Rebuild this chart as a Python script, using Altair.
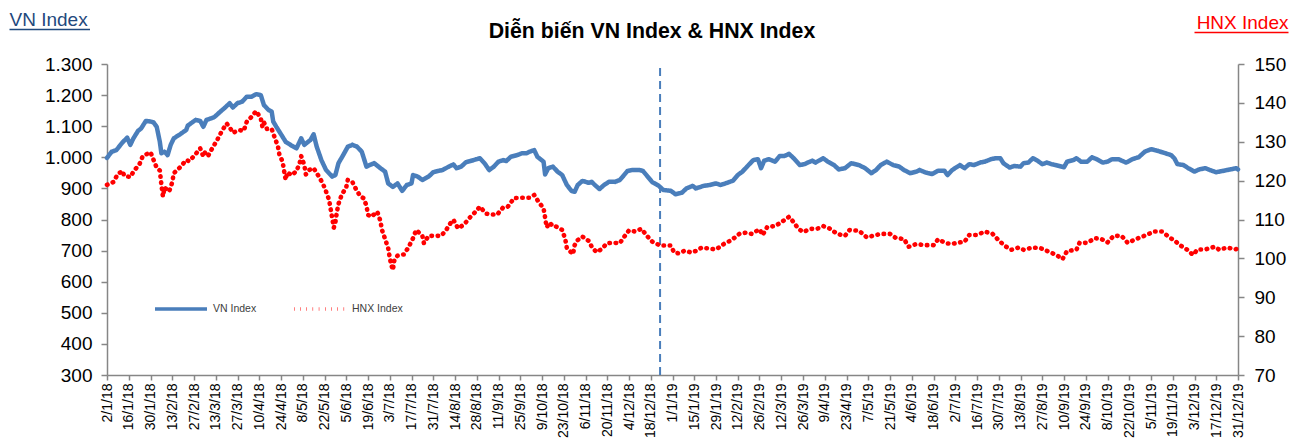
import altair as alt
import pandas as pd

# ---------------- data ----------------
START = "2018-01-02"
END = "2019-12-31"
SPLIT_DATE = "2018-12-24"

# days since 2/1/18 and VN Index close
VN_DAY = [0, 3, 6, 10, 13, 15, 17, 20, 22, 25, 28, 30, 32, 34, 35, 37, 39, 41, 43, 47,
          51, 52, 57, 60, 62, 64, 69, 73, 76, 79, 81, 84, 87, 90, 93, 96, 99, 101, 104, 106,
          107, 109, 113, 115, 119, 122, 125, 127, 131, 133, 135, 138, 141, 145, 147, 149, 152, 155, 158, 161,
          164, 167, 169, 172, 176, 179, 181, 184, 187, 190, 193, 196, 197, 200, 203, 207, 210, 213, 216, 220,
          223, 225, 228, 231, 236, 240, 243, 246, 249, 252, 255, 257, 260, 264, 267, 270, 272, 275, 277, 281,
          282, 284, 287, 290, 293, 296, 299, 301, 303, 306, 310, 312, 314, 317, 320, 323, 327, 330, 332, 335,
          338, 343, 345, 348, 351, 355, 358, 363, 366, 370, 373, 377, 379, 384, 388, 392, 395, 398, 403, 406,
          409, 412, 416, 419, 421, 423, 426, 430, 433, 436, 439, 442, 446, 449, 451, 454, 456, 461, 464, 468,
          471, 475, 479, 484, 488, 492, 495, 498, 502, 506, 510, 513, 517, 521, 523, 527, 531, 535, 539, 541,
          544, 549, 552, 555, 558, 562, 565, 569, 572, 575, 577, 581, 584, 588, 590, 593, 596, 599, 602, 605,
          608, 613, 616, 618, 622, 624, 627, 631, 634, 637, 641, 644, 647, 651, 656, 660, 664, 668, 672, 676,
          680, 685, 687, 689, 693, 696, 700, 703, 707, 710, 714, 719, 723, 727, 728]
VN_VALUE = [998, 1018, 1023, 1048, 1063, 1040, 1061, 1085, 1093, 1117, 1115, 1112, 1098, 1050, 1013, 1018, 1007, 1040, 1061, 1074,
            1088, 1102, 1120, 1117, 1098, 1120, 1129, 1147, 1160, 1174, 1160, 1174, 1179, 1195, 1195, 1203, 1200, 1168, 1152, 1147,
            1115, 1098, 1066, 1050, 1037, 1029, 1061, 1040, 1056, 1074, 1034, 991, 959, 938, 943, 981, 1007, 1034, 1040, 1034,
            1018, 970, 975, 981, 965, 954, 916, 905, 916, 892, 911, 916, 943, 938, 927, 938, 952, 956, 959, 970,
            977, 965, 970, 984, 991, 997, 981, 959, 970, 986, 991, 988, 1002, 1007, 1013, 1013, 1018, 1023, 1002, 986,
            945, 965, 970, 954, 943, 911, 892, 889, 911, 924, 918, 921, 911, 898, 911, 921, 921, 927, 938, 956,
            959, 959, 956, 938, 920, 909, 895, 892, 881, 886, 900, 908, 900, 908, 911, 916, 911, 916, 925, 943,
            954, 970, 991, 994, 965, 989, 994, 986, 1004, 1004, 1011, 997, 975, 978, 983, 989, 983, 997, 986, 975,
            961, 965, 981, 975, 965, 949, 959, 975, 986, 975, 970, 959, 949, 954, 959, 951, 946, 957, 957, 943,
            959, 975, 965, 978, 975, 983, 986, 994, 997, 997, 981, 967, 972, 970, 981, 983, 997, 989, 978, 983,
            978, 972, 968, 986, 991, 997, 986, 986, 1000, 994, 983, 986, 994, 994, 983, 994, 1000, 1018, 1026, 1021,
            1015, 1007, 997, 978, 975, 965, 954, 961, 965, 959, 952, 957, 961, 965, 961]

# days since 2/1/18 and HNX Index close
HNX_DAY = [0, 4, 7, 10, 11, 15, 17, 21, 23, 28, 30, 32, 34, 35, 36, 37, 40, 42, 43, 47,
           51, 53, 57, 60, 62, 63, 65, 68, 71, 74, 77, 79, 81, 85, 88, 90, 93, 96, 99, 100,
           101, 103, 106, 108, 110, 111, 113, 114, 115, 116, 119, 122, 124, 125, 127, 128, 130, 133, 136, 139,
           141, 143, 144, 145, 146, 147, 148, 149, 151, 154, 155, 158, 160, 163, 165, 167, 168, 170, 174, 176,
           177, 179, 181, 182, 183, 184, 185, 187, 189, 191, 194, 197, 199, 203, 204, 207, 211, 215, 218, 221,
           223, 226, 230, 234, 237, 240, 244, 248, 251, 255, 258, 262, 267, 272, 275, 278, 281, 282, 283, 285,
           287, 289, 293, 295, 296, 300, 301, 303, 306, 310, 312, 315, 318, 322, 326, 330, 333, 336, 340, 344,
           348, 351, 356, 359, 363, 365, 368, 372, 376, 379, 383, 386, 392, 397, 402, 407, 411, 415, 420, 422,
           425, 430, 434, 439, 442, 445, 448, 453, 457, 461, 465, 470, 475, 478, 484, 489, 493, 498, 504, 508,
           513, 516, 521, 526, 532, 535, 540, 544, 547, 552, 555, 560, 565, 570, 574, 578, 582, 587, 590, 596,
           601, 605, 611, 615, 618, 624, 626, 631, 636, 640, 644, 648, 653, 657, 662, 665, 669, 674, 679, 684,
           688, 691, 695, 699, 702, 707, 713, 716, 721, 726, 728]
HNX_VALUE = [118.9, 119.6, 121.7, 122.5, 121.3, 120.9, 122.3, 124.3, 126.3, 127.3, 125.3, 123.3, 122.6, 119.0, 115.9, 118.2, 117.2, 119.6, 121.9, 123.4,
             125.3, 125.0, 126.8, 128.3, 126.2, 127.2, 126.3, 128.5, 130.5, 132.8, 134.7, 133.7, 132.3, 133.0, 132.8, 135.2, 136.4, 137.9, 136.0, 133.9,
             135.0, 133.3, 133.3, 131.0, 128.9, 126.6, 124.9, 122.5, 120.2, 122.1, 121.4, 122.5, 124.5, 126.3, 124.0, 121.6, 122.7, 123.2, 121.3, 119.2,
             117.2, 115.0, 112.6, 110.3, 107.9, 109.3, 112.0, 114.0, 116.3, 118.3, 120.2, 119.6, 118.0, 116.0, 115.5, 113.6, 111.2, 110.7, 112.0, 109.6,
             107.3, 105.0, 102.6, 100.2, 98.3, 97.0, 99.6, 100.7, 100.9, 101.0, 102.8, 105.2, 107.3, 105.8, 103.9, 105.8, 105.8, 105.8, 107.1, 109.0,
             109.9, 107.7, 108.8, 110.7, 111.9, 113.3, 111.5, 111.3, 111.2, 113.1, 113.3, 115.5, 115.6, 115.6, 116.3, 114.4, 112.9, 110.5, 108.0, 109.2,
             108.2, 108.2, 107.3, 104.9, 102.6, 101.1, 103.4, 104.7, 105.6, 104.5, 103.0, 101.6, 102.3, 103.9, 104.0, 103.9, 105.6, 107.2, 106.9, 107.6,
             105.6, 104.3, 103.3, 103.3, 103.3, 101.5, 101.3, 102.0, 101.5, 101.9, 102.8, 102.6, 102.3, 103.7, 104.7, 106.3, 106.6, 106.3, 107.5, 106.0,
             108.1, 108.3, 109.3, 110.7, 109.3, 107.6, 106.8, 107.6, 107.6, 108.3, 107.7, 106.3, 105.8, 107.3, 107.1, 105.4, 105.8, 106.3, 106.3, 105.2,
             105.0, 103.0, 103.7, 103.4, 103.4, 104.9, 103.9, 103.7, 104.0, 104.3, 106.0, 106.0, 106.9, 106.3, 104.6, 103.2, 102.2, 102.8, 102.2, 102.8,
             102.6, 101.9, 100.9, 99.8, 101.9, 102.2, 104.0, 104.0, 105.2, 105.0, 104.1, 105.8, 105.8, 104.0, 104.9, 105.4, 106.0, 106.9, 106.9, 105.4,
             104.3, 103.3, 102.3, 100.9, 102.3, 102.3, 103.0, 102.2, 102.8, 102.3, 102.5]

SERIES = ["VN Index", "HNX Index"]
Y_LEFT_TICKS = [300, 400, 500, 600, 700, 800, 900, 1000, 1100, 1200, 1300]
Y_RIGHT_TICKS = [70, 80, 90, 100, 110, 120, 130, 140, 150]
TITLE = "Diễn biến VN Index & HNX Index"

# ---------------- build tables ----------------
start = pd.Timestamp(START)
vn = pd.DataFrame({"date": start + pd.to_timedelta(VN_DAY, unit="D"),
                   "value": VN_VALUE, "series": SERIES[0]})
hnx = pd.DataFrame({"date": start + pd.to_timedelta(HNX_DAY, unit="D"),
                    "value": HNX_VALUE, "series": SERIES[1]})
data = pd.concat([vn, hnx], ignore_index=True)

tick_dates = pd.date_range(START, END, freq="14D")
tick_values = [alt.DateTime(year=d.year, month=d.month, date=d.day) for d in tick_dates]
end = pd.Timestamp(END)

BLUE = "#4A7EBB"
RED = "#FF0000"
NAVY = "#1F497D"
AXIS_GREY = "#868686"
FONT = "Liberation Sans"

x_enc = alt.X(
    "date:T",
    scale=alt.Scale(domain=[alt.DateTime(year=start.year, month=start.month, date=start.day),
                            alt.DateTime(year=end.year, month=end.month, date=end.day)],
                    nice=False),
    axis=alt.Axis(values=tick_values, tickCount=len(tick_values) + 10,
                  format="%-d/%-m/%y", labelAngle=-90,
                  labelFontSize=14, labelPadding=3, tickSize=5,
                  labelOverlap=False, title=None),
)

legend = alt.Legend(
    title=None, orient="none", legendX=46, legendY=217, direction="horizontal",
    symbolType="stroke", symbolSize=2704, symbolStrokeWidth=3.5,
    labelFontSize=10.5, labelFont=FONT, labelColor="#404040", labelOffset=4,
    columnPadding=30, padding=0,
)
color_enc = alt.Color("series:N", scale=alt.Scale(domain=SERIES, range=[BLUE, RED]), legend=legend)
dash_enc = alt.StrokeDash("series:N", scale=alt.Scale(domain=SERIES, range=[[1, 0], [0.5, 5.7]]),
                          legend=legend)

vn_scale = alt.Scale(domain=[300, 1300], nice=False, zero=False)
hnx_scale = alt.Scale(domain=[70, 150], nice=False, zero=False)
vn_axis = alt.Axis(orient="left", values=Y_LEFT_TICKS, title=None,
                   labelExpr="replace(format(datum.value, ','), ',', '.')",
                   labelFontSize=19, tickSize=6, labelPadding=9)

vn_line = alt.Chart(data).transform_filter(alt.datum.series == SERIES[0]).mark_line(
    strokeWidth=4.5, strokeJoin="round", strokeCap="round"
).encode(
    x=x_enc,
    y=alt.Y("value:Q", scale=vn_scale, axis=vn_axis),
    color=color_enc,
    strokeDash=dash_enc,
)

split = alt.Chart(pd.DataFrame({"date": [pd.Timestamp(SPLIT_DATE)], "value": [1287], "value2": [300]})).mark_rule(
    color=BLUE, strokeWidth=2, strokeDash=[8, 5]
).encode(
    x=x_enc,
    y=alt.Y("value:Q", scale=vn_scale, axis=vn_axis),
    y2="value2:Q",
)

hnx_line = alt.Chart(data).transform_filter(alt.datum.series == SERIES[1]).mark_line(
    strokeWidth=4.6, strokeJoin="round", strokeCap="round"
).encode(
    x=x_enc,
    y=alt.Y("value:Q", scale=hnx_scale,
            axis=alt.Axis(orient="right", values=Y_RIGHT_TICKS, title=None,
                          labelFontSize=19, tickSize=6, labelPadding=10)),
    color=color_enc,
    strokeDash=dash_enc,
)


def text_layer(text, x, y, size, color, weight="normal", align="left"):
    return alt.Chart(pd.DataFrame({"t": [text]})).mark_text(
        align=align, baseline="alphabetic", fontSize=size, font=FONT,
        color=color, fontWeight=weight
    ).encode(text="t:N", x=alt.value(x), y=alt.value(y))


def underline(x1, x2, y, color):
    return alt.Chart(pd.DataFrame({"u": [0]})).mark_rule(color=color, strokeWidth=1.5).encode(
        x=alt.value(x1), x2=alt.value(x2), y=alt.value(y))


title = text_layer(TITLE, 545, -26, 21.3, "#000000", weight="bold", align="center")
vn_head = text_layer(SERIES[0], -97.5, -38, 19, NAVY)
vn_ul = underline(-97.5, -17, -34.5, NAVY)
hnx_head = text_layer(SERIES[1], 1181.5, -34.7, 19, RED, align="right")
hnx_ul = underline(1087.5, 1181.5, -31.5, RED)

left = alt.layer(vn_line, split)
chart = alt.layer(left, hnx_line, title, vn_head, vn_ul, hnx_head, hnx_ul).resolve_scale(
    y="independent"
).properties(
    width=1131, height=311,
    autosize=alt.AutoSizeParams(type="none"),
    padding={"left": 99, "top": 56, "right": 55, "bottom": 63},
).configure_axis(
    domainColor=AXIS_GREY, domainWidth=1.5, tickColor=AXIS_GREY, tickWidth=1.5,
    labelColor="#000000", labelFont=FONT, grid=False,
).configure_view(stroke=None)

chart.save("out.html", embed_options={"renderer": "svg", "actions": False})
